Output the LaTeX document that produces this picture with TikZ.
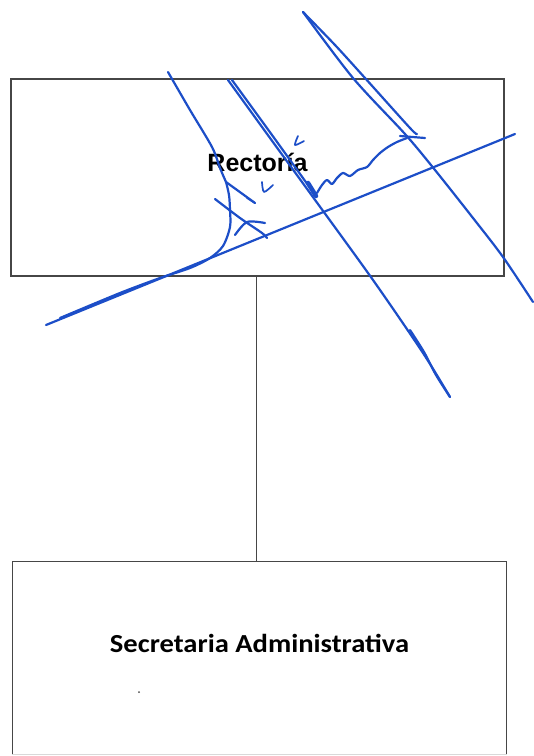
\documentclass[tikz,border=0pt]{standalone}
\usepackage{fontspec}
\setmainfont{Liberation Sans}
\newfontfamily\calib[FakeStretch=1.1]{Carlito}
\definecolor{penblue}{RGB}{28,78,200}
\definecolor{boxgray}{RGB}{70,70,70}
\begin{document}
\begin{tikzpicture}[x=1pt,y=-1pt,
  pen/.style={draw=penblue,line width=2.2pt,line cap=round,line join=round},
  thinpen/.style={draw=penblue,line width=1.7pt,line cap=round,line join=round},
  orgbox/.style={line width=1.1pt,inner sep=0pt,minimum width=493pt},
  lbl/.style={inner sep=0pt,text=black,anchor=base}]
\useasboundingbox[fill=white] (0,0) rectangle (534,756);
% boxes
\node[orgbox,draw=boxgray,minimum height=197pt] (rect) at (257.5,177.5) {};
\node[lbl,font=\fontsize{25}{28}\selectfont\bfseries] (rectlbl) at (257.5,171) {Rectoría};
\node[orgbox,draw=none,minimum height=192pt] (sec) at (259.5,658) {};
\draw[boxgray,line width=1.1pt] (sec.south west) -- (sec.north west) -- (sec.north east) -- (sec.south east);
\draw[black!15,line width=1pt] (sec.south west) -- (sec.south east);
\node[lbl,font=\calib\fontsize{26}{28}\selectfont\bfseries] (seclbl) at (259.5,652) {Secretaria Administrativa};
\fill[black!70] (139,692) circle (1pt);
% connector
\draw[boxgray,line width=0.9pt] ([xshift=-1.5pt]rect.south) -- ([xshift=-1.5pt]rect.south |- sec.north);
% handwritten strokes
\draw[pen] (46,325) -- (515,134);
\draw[pen] plot[smooth] coordinates {(168,72) (190,110) (212,147) (220,168) (226,182)};
\draw[pen] (226,182) -- (255,203);
\draw[thinpen] (247,198) -- (255,203);
\draw[pen] plot[smooth] coordinates {(226,182) (229,195) (230,210) (230,227) (223,246) (210,258) (190,268) (160,278) (120,293) (60,318)};
\draw[pen] plot[smooth] coordinates {(215,199) (240,218) (262,233) (267,238)};
\draw[pen] plot[smooth] coordinates {(235,235) (247,222) (265,223)};
\draw[thinpen] plot[smooth] coordinates {(262,182) (264,192) (273,185)};
\draw[thinpen] plot[smooth] coordinates {(298,136) (295,145) (304,141)};
% long narrow loop through the middle
\draw[pen] plot[smooth] coordinates {(228,80) (270,138) (310,193) (373,280) (423,353) (450,397)};
\draw[pen] plot[smooth] coordinates {(232,80) (272,135) (313,192)};
\draw[pen] plot[smooth] coordinates {(450,397) (436,375) (424,352) (410,330)};
% loop at the top right
\draw[pen] plot[smooth] coordinates {(303,12) (353,78) (405,134) (435,170) (473,218) (503,257) (533,302)};
\draw[pen] plot[smooth] coordinates {(303,12) (335,45) (365,78) (410,128) (417,134)};
\draw[pen] (400,136) -- (425,138);
% wavy stroke
\draw[pen] plot[smooth] coordinates {(317,193) (322,185) (327,180) (332,184) (337,178) (343,173) (350,176) (358,170) (367,167) (373,160) (380,153) (388,147) (397,142) (407,138)};
\draw[pen,line width=4.5pt] (308,183) -- (316,196);
\end{tikzpicture}
\end{document}
